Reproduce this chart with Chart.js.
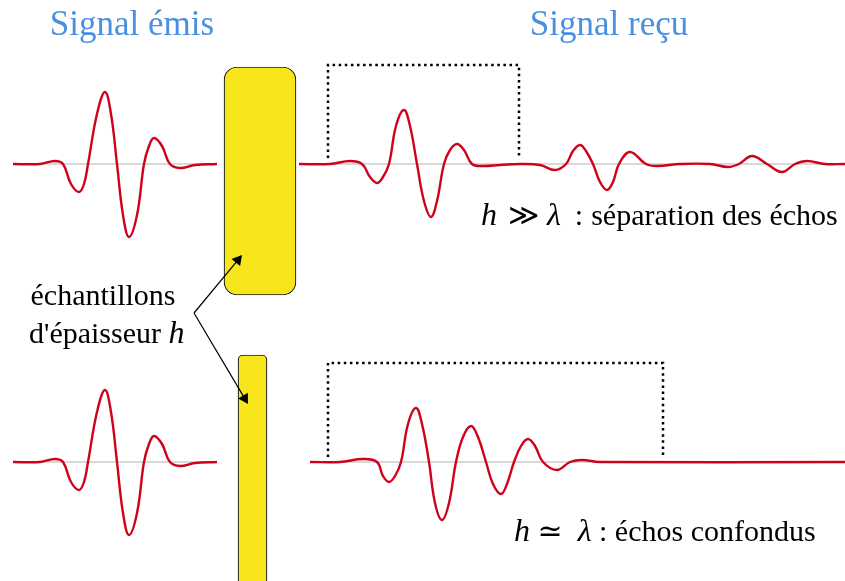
<!DOCTYPE html>
<html>
<head>
<meta charset="utf-8">
<script src="https://cdn.jsdelivr.net/npm/chart.js@4"></script>
<style>
  html, body { margin: 0; padding: 0; background: #fff; }
</style>
</head>
<body>
<canvas id="diagram" width="845" height="581"></canvas>
<script>
// Waveforms: time sample (x) and amplitude (positive = up)
const emitTime = [13, 40, 55, 63, 71, 79, 84, 88, 97, 105, 111, 117, 123, 129, 137, 144, 149, 154, 162, 170, 180, 195, 217];
const emitAmp  = [0, 0, 3, 0, -20, -28, -20, 0, 50, 72, 50, 0, -51, -73, -51, 0, 18, 26, 18, 0, -4, -1, 0];

// thick sample: two separated echoes
const farTime = [299, 330, 350, 362, 370, 377, 383, 389, 396, 404, 410, 417, 424, 431, 437, 444, 450, 457, 464, 472,
                 482, 500, 520, 540, 555, 566, 573, 580, 586, 593, 600, 607, 613, 619, 630, 646, 657, 680, 710,
                 728, 739, 752, 767, 782, 795, 807, 825, 845];
const farAmp  = [0, 0, 3, 0, -13, -19, -13, 0, 38, 54, 38, 0, -37, -53, -37, 0, 14, 20, 14, 0,
                 -2, -1, 0, -1, -6, 0, 13, 19, 13, 0, -18, -26, -18, 0, 12, 0, -2, 0, 0,
                 -3, 0, 8, 0, -8, 0, 3, 0, 0];

// thin sample: merged echoes
const nearTime = [310, 340, 363, 377, 383, 389, 395, 401, 408, 416, 422, 429, 435, 442, 449, 456, 463, 471, 478, 486,
                  493, 501, 507, 514, 521, 528, 535, 543, 557, 570, 582, 600, 845];
const nearAmp  = [0, 0, 3, 0, -14, -20, -14, 0, 38, 54, 38, 0, -41, -58, -41, 0, 25, 36, 25, 0,
                  -22, -32, -22, 0, 16, 23, 16, 0, -8, 0, 2, 0, 0];

// track layout
const trackBase = [164, 462];
const emitSpan = [13, 217];
const recvSpan = [[299, 845], [310, 845]];

// dotted echo windows
const windowLeft = [328, 328];
const windowRight = [519, 663];
const windowTop = [65, 363];
const windowBottom = [158, 457];

// yellow samples
const sampleCenter = [260, 252.5];
const sampleTop = [67, 355];
const sampleBottom = [295, 610];
const sampleWidth = [72, 29];
const sampleRadius = [13, 5];

// leader arrows
const arrowFrom = { x: 194, y: 313 };
const arrowTo = [{ x: 242, y: 255 }, { x: 248, y: 404 }];

const RED = '#d0021b';
const BLUE = '#4a90e2';
const YELLOW = '#f7e61c';
const SERIF = "'Liberation Serif', 'DejaVu Serif', serif";

function wave(times, amps, base) {
    return times.map((t, i) => ({ x: t, y: base - amps[i] }));
}

function baseline(span, base) {
    return [{ x: span[0], y: base }, { x: span[1], y: base }];
}

function windowBox(i) {
    return [
        { x: windowLeft[i], y: windowBottom[i] },
        { x: windowLeft[i], y: windowTop[i] },
        { x: windowRight[i], y: windowTop[i] },
        { x: windowRight[i], y: windowBottom[i] }
    ];
}

const datasets = [];

// gray zero lines
[0, 1].forEach(i => {
    [baseline(emitSpan, trackBase[i]), baseline(recvSpan[i], trackBase[i])].forEach(d => {
        datasets.push({ type: 'line', data: d, borderColor: '#cccccc', borderWidth: 1.3, pointRadius: 0, order: 5 });
    });
});

// signals
const waveStyle = { type: 'line', borderColor: RED, borderWidth: 2.4, pointRadius: 0, tension: 0.4, order: 1 };
datasets.push({ ...waveStyle, data: wave(emitTime, emitAmp, trackBase[0]) });
datasets.push({ ...waveStyle, data: wave(emitTime, emitAmp, trackBase[1]) });
datasets.push({ ...waveStyle, data: wave(farTime, farAmp, trackBase[0]) });
datasets.push({ ...waveStyle, data: wave(nearTime, nearAmp, trackBase[1]) });

// dotted windows
[0, 1].forEach(i => {
    datasets.push({ type: 'line', data: windowBox(i), borderColor: '#000', borderWidth: 2.5,
        borderDash: [2.5, 3.6], pointRadius: 0, tension: 0, order: 2 });
});

// yellow samples as floating bars
[0, 1].forEach(i => {
    datasets.push({ type: 'bar', data: [{ x: sampleCenter[i], y: [sampleTop[i], sampleBottom[i]] }],
        backgroundColor: YELLOW, borderColor: '#222', borderWidth: 1.2, borderSkipped: false,
        borderRadius: sampleRadius[i], barThickness: sampleWidth[i], grouped: false, order: 10 });
});

// arrows, head drawn as a rotated triangle point just before the tip
const headSize = 6.5;
arrowTo.forEach(tip => {
    const dx = tip.x - arrowFrom.x, dy = tip.y - arrowFrom.y;
    const len = Math.hypot(dx, dy);
    const head = { x: tip.x - dx / len * headSize, y: tip.y - dy / len * headSize };
    const rot = Math.atan2(dx, -dy) * 180 / Math.PI;
    datasets.push({ type: 'line', data: [arrowFrom, head], borderColor: '#000', borderWidth: 1.2,
        pointRadius: [0, headSize], pointStyle: 'triangle', pointRotation: rot,
        pointBackgroundColor: '#000', pointBorderWidth: 0, order: 0 });
});

// text labels: runs of [text, italic, gap before in px]
const labels = [
    { x: 132, y: 35, align: 'center', size: 35, color: BLUE, runs: [['Signal émis', false]] },
    { x: 609, y: 35, align: 'center', size: 35, color: BLUE, runs: [['Signal reçu', false]] },
    { x: 481, y: 225, align: 'left', size: 30, color: '#000',
      runs: [['h', true], ['≫', false, 11], ['λ', true, 8], [':', false, 14], ['séparation des échos', false, 8]] },
    { x: 103, y: 305, align: 'center', size: 30, color: '#000', runs: [['échantillons', false]] },
    { x: 29, y: 343, align: 'left', size: 30, color: '#000', runs: [["d'épaisseur ", false], ['h', true]] },
    { x: 514, y: 541, align: 'left', size: 30, color: '#000',
      runs: [['h', true], [' ≃  ', false], ['λ', true], [' : échos confondus', false]] }
];

const textPlugin = {
    id: 'diagramText',
    afterDraw(chart) {
        const ctx = chart.ctx;
        const xs = chart.scales.x, ys = chart.scales.y;
        ctx.save();
        ctx.textBaseline = 'alphabetic';
        ctx.textAlign = 'left';
        labels.forEach(l => {
            const fontFor = it => (it ? `italic ${Math.round(l.size * 1.08)}px ` : `${l.size}px `) + SERIF;
            let total = 0;
            l.runs.forEach(r => { ctx.font = fontFor(r[1]); total += ctx.measureText(r[0]).width + (r[2] || 0); });
            let x = xs.getPixelForValue(l.x);
            if (l.align === 'center') x -= total / 2;
            const y = ys.getPixelForValue(l.y);
            ctx.fillStyle = l.color;
            l.runs.forEach(r => {
                ctx.font = fontFor(r[1]);
                x += r[2] || 0;
                ctx.fillText(r[0], x, y);
                x += ctx.measureText(r[0]).width;
            });
        });
        ctx.restore();
    }
};

new Chart(document.getElementById('diagram'), {
    type: 'line',
    data: { datasets: datasets },
    options: {
        responsive: false,
        animation: false,
        devicePixelRatio: 1,
        layout: { padding: 0, autoPadding: false },
        plugins: { legend: { display: false }, tooltip: { enabled: false } },
        scales: {
            x: { type: 'linear', min: 0, max: 845, display: false, offset: false },
            y: { type: 'linear', min: 0, max: 581, reverse: true, display: false }
        }
    },
    plugins: [textPlugin]
});
</script>
</body>
</html>
